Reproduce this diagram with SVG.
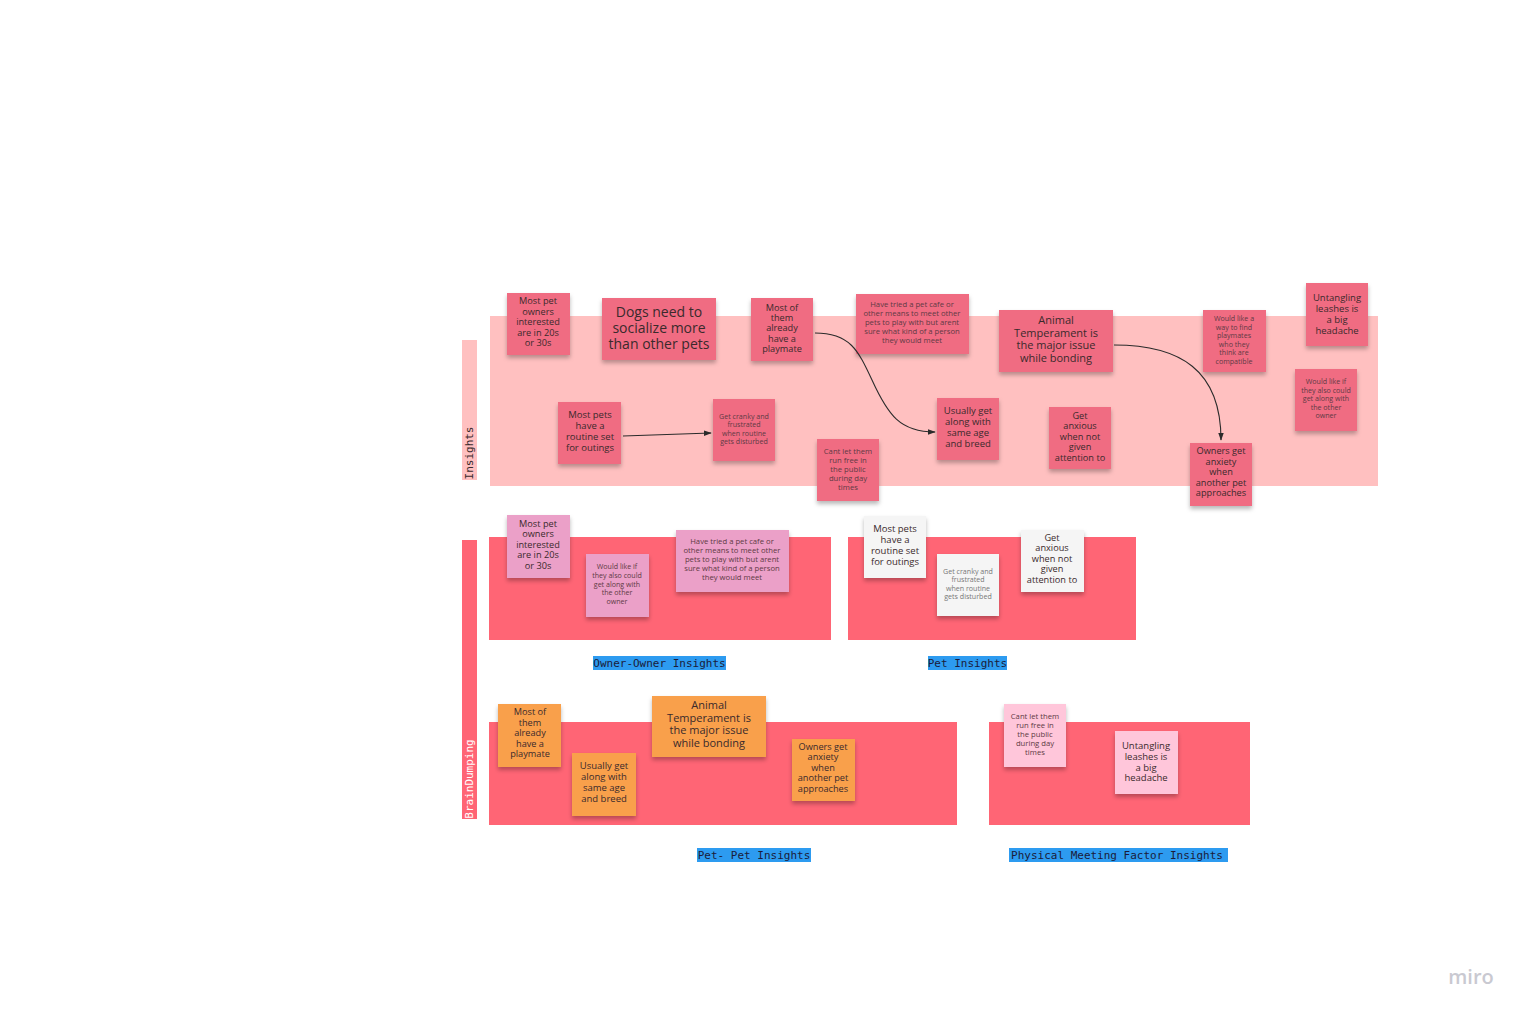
<svg xmlns="http://www.w3.org/2000/svg" width="1530" height="1020" viewBox="0 0 1530 1020">
<defs>
<filter id="sh" x="-20%" y="-20%" width="140%" height="150%">
<feDropShadow dx="0" dy="3" stdDeviation="2" flood-color="#000" flood-opacity="0.28"/>
</filter>
<marker id="ah" viewBox="0 0 10 10" refX="9" refY="5" markerWidth="8" markerHeight="8" orient="auto" markerUnits="userSpaceOnUse">
<path d="M0,1.5 L10,5 L0,8.5 Z" fill="#2b2b2b"/>
</marker>
</defs>
<style>
.red{fill:#f06c82;filter:url(#sh)}
.pink{fill:#eba0c8;filter:url(#sh)}
.white{fill:#f5f5f5;filter:url(#sh)}
.orange{fill:#f9a04b;filter:url(#sh)}
.lpink{fill:#ffc6da;filter:url(#sh)}
.t{font-family:"Open Sans","Liberation Sans",sans-serif;text-anchor:middle;fill:#3a2a2c}
.s{font-family:"Open Sans","Liberation Sans",sans-serif;text-anchor:middle;fill:#5e3a44}
.g{fill:#777}
.frame{fill:#ff6575}
.mono{font-family:"DejaVu Sans Mono","Liberation Mono",monospace;font-size:11px}
.hl{fill:#2d9bf0}
.conn{fill:none;stroke:#2b2b2b;stroke-width:1.1;marker-end:url(#ah)}
</style>
<rect width="1530" height="1020" fill="#ffffff"/>

<g id="insights-frame">
<rect x="490" y="316" width="888" height="170" fill="#ffc0c0"/>
<rect x="462" y="340" width="15" height="140" fill="#ffc0c0"/>
<text class="mono" fill="#3a2a2c" transform="translate(473,453) rotate(-90)" text-anchor="middle">Insights</text>
</g>

<g id="braindumping-bar">
<rect x="462" y="540" width="15" height="279" fill="#ff6575"/>
<text class="mono" fill="#ffffff" transform="translate(473,779) rotate(-90)" text-anchor="middle">BrainDumping</text>
</g>

<g id="frame-owner-owner">
<rect class="frame" x="489" y="537" width="342" height="103"/>
<rect class="hl" x="593" y="656" width="133" height="14"/>
<text class="mono" x="659.5" y="667" text-anchor="middle" fill="#1b1b3a">Owner-Owner Insights</text>
</g>
<g id="frame-pet">
<rect class="frame" x="848" y="537" width="288" height="103"/>
<rect class="hl" x="928" y="656" width="79" height="14"/>
<text class="mono" x="967.5" y="667" text-anchor="middle" fill="#1b1b3a">Pet Insights</text>
</g>
<g id="frame-pet-pet">
<rect class="frame" x="489" y="722" width="468" height="103"/>
<rect class="hl" x="697" y="848" width="114" height="14"/>
<text class="mono" x="754" y="859" text-anchor="middle" fill="#1b1b3a">Pet- Pet Insights</text>
</g>
<g id="frame-physical">
<rect class="frame" x="989" y="722" width="261" height="103"/>
<rect class="hl" x="1009" y="848" width="219" height="14"/>
<text class="mono" x="1117" y="859" text-anchor="middle" fill="#1b1b3a">Physical Meeting Factor Insights</text>
</g>

<!-- Insights notes -->
<g id="n1"><rect class="red" x="507" y="293" width="63" height="62"/>
<text class="t" font-size="9.2" x="538"><tspan x="538" y="304">Most pet</tspan><tspan x="538" y="315">owners</tspan><tspan x="538" y="325">interested</tspan><tspan x="538" y="336">are in 20s</tspan><tspan x="538" y="346">or 30s</tspan></text></g>
<g id="n2"><rect class="red" x="602" y="298" width="114" height="62"/>
<text class="t" font-size="14" x="659"><tspan x="659" y="316.5">Dogs need to</tspan><tspan x="659" y="332.5">socialize more</tspan><tspan x="659" y="348.5">than other pets</tspan></text></g>
<g id="n3"><rect class="red" x="751" y="298" width="62" height="63"/>
<text class="t" font-size="9.2" x="782"><tspan x="782" y="311">Most of</tspan><tspan x="782" y="321">them</tspan><tspan x="782" y="331">already</tspan><tspan x="782" y="342">have a</tspan><tspan x="782" y="352">playmate</tspan></text></g>
<g id="n4"><rect class="red" x="856" y="294" width="113" height="60"/>
<text class="s" font-size="7.7" x="912"><tspan x="912" y="306.5">Have tried a pet cafe or</tspan><tspan x="912" y="315.5">other means to meet other</tspan><tspan x="912" y="324.5">pets to play with but arent</tspan><tspan x="912" y="333.5">sure what kind of a person</tspan><tspan x="912" y="342.5">they would meet</tspan></text></g>
<g id="n5"><rect class="red" x="999" y="310" width="114" height="62"/>
<text class="t" font-size="11" x="1056"><tspan x="1056" y="324">Animal</tspan><tspan x="1056" y="337">Temperament is</tspan><tspan x="1056" y="349">the major issue</tspan><tspan x="1056" y="362">while bonding</tspan></text></g>
<g id="n6"><rect class="red" x="1203" y="310" width="63" height="62"/>
<text class="s" font-size="7.1" x="1234"><tspan x="1234" y="320.5">Would like a</tspan><tspan x="1234" y="329.5">way to find</tspan><tspan x="1234" y="337.5">playmates</tspan><tspan x="1234" y="346.5">who they</tspan><tspan x="1234" y="354.5">think are</tspan><tspan x="1234" y="363.5">compatible</tspan></text></g>
<g id="n7"><rect class="red" x="1306" y="283" width="62" height="63"/>
<text class="t" font-size="9.5" x="1337"><tspan x="1337" y="300.5">Untangling</tspan><tspan x="1337" y="311.5">leashes is</tspan><tspan x="1337" y="322.5">a big</tspan><tspan x="1337" y="333.5">headache</tspan></text></g>
<g id="n8"><rect class="red" x="1295" y="369" width="62" height="62"/>
<text class="s" font-size="7.1" x="1326"><tspan x="1326" y="383.5">Would like if</tspan><tspan x="1326" y="392.5">they also could</tspan><tspan x="1326" y="400.5">get along with</tspan><tspan x="1326" y="409.5">the other</tspan><tspan x="1326" y="417.5">owner</tspan></text></g>
<g id="n9"><rect class="red" x="558" y="402" width="63" height="62"/>
<text class="t" font-size="9.5" x="590"><tspan x="590" y="417.5">Most pets</tspan><tspan x="590" y="428.5">have a</tspan><tspan x="590" y="439.5">routine set</tspan><tspan x="590" y="450.5">for outings</tspan></text></g>
<g id="n10"><rect class="red" x="713" y="399" width="62" height="62"/>
<text class="s" font-size="7.1" x="744"><tspan x="744" y="418.5">Get cranky and</tspan><tspan x="744" y="426.5">frustrated</tspan><tspan x="744" y="435.5">when routine</tspan><tspan x="744" y="443.5">gets disturbed</tspan></text></g>
<g id="n11"><rect class="red" x="817" y="439" width="62" height="62"/>
<text class="s" font-size="7.7" x="848"><tspan x="848" y="453.5">Cant let them</tspan><tspan x="848" y="462.5">run free in</tspan><tspan x="848" y="471.5">the public</tspan><tspan x="848" y="480.5">during day</tspan><tspan x="848" y="489.5">times</tspan></text></g>
<g id="n12"><rect class="red" x="937" y="398" width="62" height="62"/>
<text class="t" font-size="9.5" x="968"><tspan x="968" y="413.5">Usually get</tspan><tspan x="968" y="424.5">along with</tspan><tspan x="968" y="435.5">same age</tspan><tspan x="968" y="446.5">and breed</tspan></text></g>
<g id="n13"><rect class="red" x="1049" y="407" width="62" height="62"/>
<text class="t" font-size="9.2" x="1080"><tspan x="1080" y="419">Get</tspan><tspan x="1080" y="429">anxious</tspan><tspan x="1080" y="440">when not</tspan><tspan x="1080" y="450">given</tspan><tspan x="1080" y="461">attention to</tspan></text></g>
<g id="n14"><rect class="red" x="1190" y="443" width="62" height="63"/>
<text class="t" font-size="9.2" x="1221"><tspan x="1221" y="454">Owners get</tspan><tspan x="1221" y="465">anxiety</tspan><tspan x="1221" y="475">when</tspan><tspan x="1221" y="486">another pet</tspan><tspan x="1221" y="496">approaches</tspan></text></g>

<!-- Owner-Owner notes -->
<g id="oo1"><rect class="pink" x="507" y="515" width="63" height="63"/>
<text class="t" font-size="9.2" x="538"><tspan x="538" y="527">Most pet</tspan><tspan x="538" y="537">owners</tspan><tspan x="538" y="548">interested</tspan><tspan x="538" y="558">are in 20s</tspan><tspan x="538" y="569">or 30s</tspan></text></g>
<g id="oo2"><rect class="pink" x="586" y="554" width="63" height="63"/>
<text class="s" font-size="7.1" x="617"><tspan x="617" y="568.5">Would like if</tspan><tspan x="617" y="577.5">they also could</tspan><tspan x="617" y="586.5">get along with</tspan><tspan x="617" y="594.5">the other</tspan><tspan x="617" y="603.5">owner</tspan></text></g>
<g id="oo3"><rect class="pink" x="676" y="530" width="113" height="62"/>
<text class="s" font-size="7.7" x="732"><tspan x="732" y="543.5">Have tried a pet cafe or</tspan><tspan x="732" y="552.5">other means to meet other</tspan><tspan x="732" y="561.5">pets to play with but arent</tspan><tspan x="732" y="570.5">sure what kind of a person</tspan><tspan x="732" y="579.5">they would meet</tspan></text></g>

<!-- Pet notes -->
<g id="p1"><rect class="white" x="864" y="516" width="62" height="62"/>
<text class="t" font-size="9.5" x="895"><tspan x="895" y="531.5">Most pets</tspan><tspan x="895" y="542.5">have a</tspan><tspan x="895" y="553.5">routine set</tspan><tspan x="895" y="564.5">for outings</tspan></text></g>
<g id="p2"><rect class="white" x="937" y="554" width="62" height="62"/>
<text class="s g" font-size="7.1" x="968"><tspan x="968" y="573.5">Get cranky and</tspan><tspan x="968" y="581.5">frustrated</tspan><tspan x="968" y="590.5">when routine</tspan><tspan x="968" y="598.5">gets disturbed</tspan></text></g>
<g id="p3"><rect class="white" x="1021" y="530" width="63" height="62"/>
<text class="t" font-size="9.2" x="1052"><tspan x="1052" y="541">Get</tspan><tspan x="1052" y="551">anxious</tspan><tspan x="1052" y="562">when not</tspan><tspan x="1052" y="572">given</tspan><tspan x="1052" y="583">attention to</tspan></text></g>

<!-- Pet-Pet notes -->
<g id="pp1"><rect class="orange" x="498" y="704" width="63" height="63"/>
<text class="t" font-size="9.2" x="530"><tspan x="530" y="715">Most of</tspan><tspan x="530" y="726">them</tspan><tspan x="530" y="736">already</tspan><tspan x="530" y="747">have a</tspan><tspan x="530" y="757">playmate</tspan></text></g>
<g id="pp2"><rect class="orange" x="572" y="753" width="64" height="63"/>
<text class="t" font-size="9.5" x="604"><tspan x="604" y="768.5">Usually get</tspan><tspan x="604" y="779.5">along with</tspan><tspan x="604" y="790.5">same age</tspan><tspan x="604" y="801.5">and breed</tspan></text></g>
<g id="pp3"><rect class="orange" x="652" y="696" width="114" height="61"/>
<text class="t" font-size="11" x="709"><tspan x="709" y="709">Animal</tspan><tspan x="709" y="722">Temperament is</tspan><tspan x="709" y="734">the major issue</tspan><tspan x="709" y="747">while bonding</tspan></text></g>
<g id="pp4"><rect class="orange" x="792" y="739" width="63" height="62"/>
<text class="t" font-size="9.2" x="823"><tspan x="823" y="750">Owners get</tspan><tspan x="823" y="760">anxiety</tspan><tspan x="823" y="771">when</tspan><tspan x="823" y="781">another pet</tspan><tspan x="823" y="792">approaches</tspan></text></g>

<!-- Physical notes -->
<g id="ph1"><rect class="lpink" x="1004" y="704" width="62" height="63"/>
<text class="s" font-size="7.7" x="1035"><tspan x="1035" y="718.5">Cant let them</tspan><tspan x="1035" y="727.5">run free in</tspan><tspan x="1035" y="736.5">the public</tspan><tspan x="1035" y="745.5">during day</tspan><tspan x="1035" y="754.5">times</tspan></text></g>
<g id="ph2"><rect class="lpink" x="1115" y="731" width="63" height="63"/>
<text class="t" font-size="9.5" x="1146"><tspan x="1146" y="748.5">Untangling</tspan><tspan x="1146" y="759.5">leashes is</tspan><tspan x="1146" y="770.5">a big</tspan><tspan x="1146" y="780.5">headache</tspan></text></g>

<g id="connectors">
<path class="conn" d="M623,436 L711,433"/>
<path class="conn" d="M815,333 C850,333 858,350 872,380 C888,415 900,432 935,432"/>
<path class="conn" d="M1114,345 C1180,345 1221,370 1221,440"/>
</g>

<g id="logo">
<text x="1471" y="984" text-anchor="middle" font-family="Open Sans,Liberation Sans,sans-serif" font-size="20" font-weight="600" fill="#c9c9d1">miro</text>
</g>
</svg>
